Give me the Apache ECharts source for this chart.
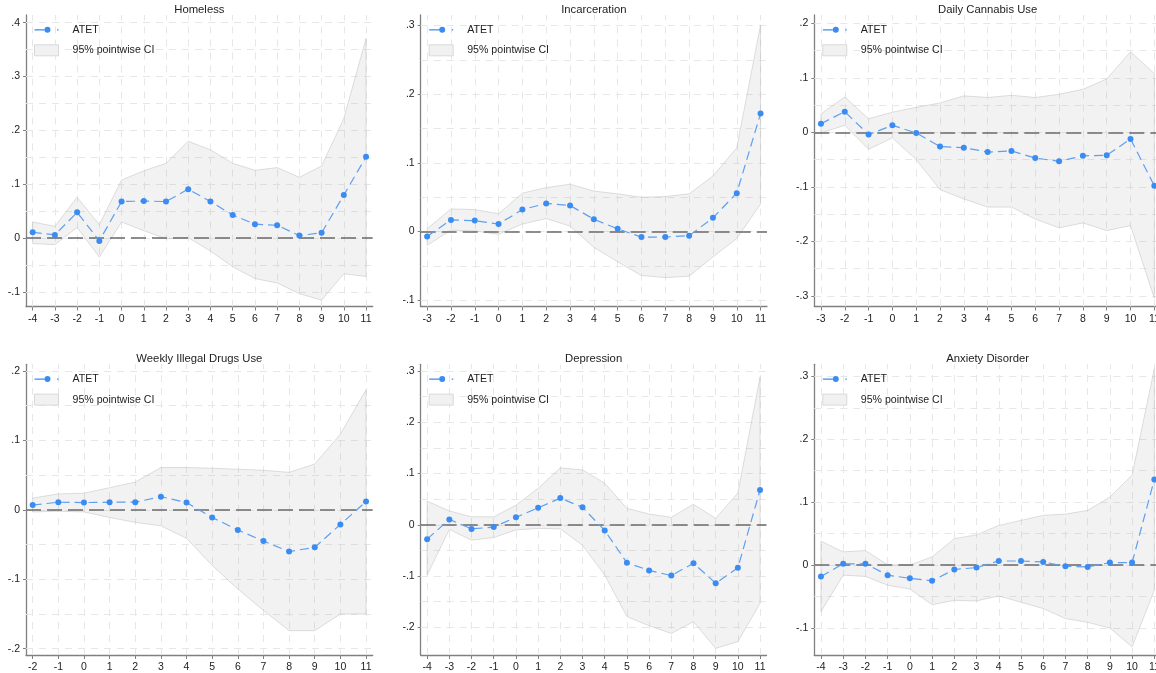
<!DOCTYPE html>
<html>
<head>
<meta charset="utf-8">
<script src="https://cdn.jsdelivr.net/npm/echarts@6/dist/echarts.min.js"></script>
<style>
html, body { margin: 0; padding: 0; background: #fff; overflow: hidden; }
#chart { width: 1156px; height: 673px; }
</style>
</head>
<body>
<div id="chart"></div>
<script>
// ---------------- DATA ----------------
const panelTitles = ['Homeless', 'Incarceration', 'Daily Cannabis Use',
                     'Weekly Illegal Drugs Use', 'Depression', 'Anxiety Disorder'];

const periodsFromMinus4 = [-4, -3, -2, -1, 0, 1, 2, 3, 4, 5, 6, 7, 8, 9, 10, 11];
const periodsFromMinus3 = [-3, -2, -1, 0, 1, 2, 3, 4, 5, 6, 7, 8, 9, 10, 11];
const periodsFromMinus2 = [-2, -1, 0, 1, 2, 3, 4, 5, 6, 7, 8, 9, 10, 11];

// Homeless
const homelessAtet = [0.011, 0.006, 0.048, -0.005, 0.068, 0.069, 0.068, 0.091, 0.068, 0.043, 0.026, 0.024, 0.005, 0.010, 0.080, 0.151];
const homelessHi   = [0.030, 0.022, 0.076, 0.025, 0.108, 0.125, 0.139, 0.180, 0.164, 0.139, 0.126, 0.131, 0.113, 0.134, 0.222, 0.371];
const homelessLo   = [-0.010, -0.012, 0.020, -0.035, 0.030, 0.014, -0.001, 0.001, -0.024, -0.053, -0.075, -0.083, -0.103, -0.115, -0.066, -0.071];

// Incarceration
const incarcerationAtet = [-0.007, 0.017, 0.016, 0.011, 0.032, 0.041, 0.038, 0.018, 0.004, -0.008, -0.008, -0.006, 0.020, 0.056, 0.172];
const incarcerationHi   = [0.004, 0.033, 0.032, 0.026, 0.056, 0.064, 0.069, 0.059, 0.055, 0.050, 0.051, 0.055, 0.081, 0.122, 0.301];
const incarcerationLo   = [-0.020, 0.002, 0.001, -0.004, 0.011, 0.019, 0.008, -0.023, -0.044, -0.064, -0.067, -0.065, -0.037, -0.010, 0.040];

// Daily Cannabis Use
const cannabisAtet = [0.016, 0.038, -0.004, 0.013, -0.001, -0.026, -0.028, -0.036, -0.034, -0.047, -0.053, -0.043, -0.042, -0.012, -0.098];
const cannabisHi   = [0.034, 0.065, 0.025, 0.037, 0.046, 0.054, 0.067, 0.064, 0.068, 0.064, 0.070, 0.079, 0.098, 0.148, 0.108];
const cannabisLo   = [-0.001, 0.013, -0.031, -0.010, -0.050, -0.105, -0.122, -0.137, -0.137, -0.159, -0.175, -0.166, -0.180, -0.171, -0.304];

// Weekly Illegal Drugs Use
const drugsAtet = [0.007, 0.011, 0.0105, 0.011, 0.011, 0.019, 0.0105, -0.011, -0.029, -0.045, -0.060, -0.054, -0.021, 0.012];
const drugsHi   = [0.017, 0.023, 0.024, 0.032, 0.040, 0.061, 0.061, 0.060, 0.0585, 0.057, 0.054, 0.066, 0.109, 0.173];
const drugsLo   = [-0.003, -0.002, -0.003, -0.011, -0.018, -0.023, -0.041, -0.080, -0.114, -0.145, -0.174, -0.174, -0.150, -0.150];

// Depression
const depressionAtet = [-0.028, 0.0105, -0.008, -0.0045, 0.0145, 0.033, 0.052, 0.034, -0.011, -0.074, -0.089, -0.099, -0.075, -0.114, -0.084, 0.068];
const depressionHi   = [0.046, 0.027, 0.0155, 0.0155, 0.038, 0.071, 0.111, 0.107, 0.081, 0.032, 0.021, 0.0145, 0.040, 0.0125, 0.062, 0.2885];
const depressionLo   = [-0.098, -0.009, -0.030, -0.025, -0.010, -0.007, -0.008, -0.040, -0.098, -0.179, -0.197, -0.212, -0.189, -0.241, -0.228, -0.153];

// Anxiety Disorder
const anxietyAtet = [-0.018, 0.002, 0.002, -0.016, -0.021, -0.025, -0.007, -0.004, 0.0065, 0.0065, 0.005, -0.002, -0.003, 0.004, 0.004, 0.136];
const anxietyHi   = [0.038, 0.021, 0.023, 0.0005, 0.000, 0.013, 0.042, 0.048, 0.063, 0.071, 0.079, 0.081, 0.087, 0.108, 0.143, 0.312];
const anxietyLo   = [-0.074, -0.016, -0.018, -0.032, -0.038, -0.063, -0.056, -0.057, -0.049, -0.059, -0.069, -0.085, -0.091, -0.100, -0.130, -0.040];

// Y tick values per panel
const yTicksHomeless      = [-0.1, 0, 0.1, 0.2, 0.3, 0.4];
const yTicksIncarceration = [-0.1, 0, 0.1, 0.2, 0.3];
const yTicksCannabis      = [-0.3, -0.2, -0.1, 0, 0.1, 0.2];
const yTicksDrugs         = [-0.2, -0.1, 0, 0.1, 0.2];
const yTicksDepression    = [-0.2, -0.1, 0, 0.1, 0.2, 0.3];
const yTicksAnxiety       = [-0.1, 0, 0.1, 0.2, 0.3];

const legendNames = ['ATET', '95% pointwise CI'];

// ---------------- LAYOUT (positions / axis ranges) ----------------
const layout = [
  { left: 26,    top: 15,    width: 346.7, height: 291.5, xMin: -4.3,  xMax: 11.3,  yMin: -0.1268, yMax: 0.4143 },
  { left: 420.7, top: 15,    width: 346.3, height: 291.5, xMin: -3.27, xMax: 11.27, yMin: -0.1091, yMax: 0.3154 },
  { left: 814.3, top: 15,    width: 346.7, height: 291.5, xMin: -3.28, xMax: 11.28, yMin: -0.3193, yMax: 0.2153 },
  { left: 26,    top: 364.3, width: 346.7, height: 290.7, xMin: -2.26, xMax: 11.26, yMin: -0.2091, yMax: 0.2097 },
  { left: 420.7, top: 364.3, width: 345.8, height: 290.7, xMin: -4.29, xMax: 11.29, yMin: -0.254,  yMax: 0.313 },
  { left: 814.3, top: 364.3, width: 346.7, height: 290.7, xMin: -4.3,  xMax: 11.3,  yMin: -0.1429, yMax: 0.3191 }
];

const panels = [
  { periods: periodsFromMinus4, atet: homelessAtet,      lo: homelessLo,      hi: homelessHi,      yTicks: yTicksHomeless },
  { periods: periodsFromMinus3, atet: incarcerationAtet, lo: incarcerationLo, hi: incarcerationHi, yTicks: yTicksIncarceration },
  { periods: periodsFromMinus3, atet: cannabisAtet,      lo: cannabisLo,      hi: cannabisHi,      yTicks: yTicksCannabis },
  { periods: periodsFromMinus2, atet: drugsAtet,         lo: drugsLo,         hi: drugsHi,         yTicks: yTicksDrugs },
  { periods: periodsFromMinus4, atet: depressionAtet,    lo: depressionLo,    hi: depressionHi,    yTicks: yTicksDepression },
  { periods: periodsFromMinus4, atet: anxietyAtet,       lo: anxietyLo,       hi: anxietyHi,       yTicks: yTicksAnxiety }
];

// ---------------- STYLE ----------------
const FONT = '"Liberation Sans", Arial, Helvetica, sans-serif';
const TEXT = '#222222';
const AXIS = '#808080';
const GRID = '#e7e7e7';
const ATET_MARK = '#3b8cf2';
const ATET_LINE = '#5d9ff0';
// legend glyph for ATET: short line, small dot, trailing dot (24 x 11 box)
const ATET_ICON = 'path://M0,0 M24,11 M0,5 L10,5 L10,6.1 L0,6.1 Z ' +
                  'M10,5.5 A3,3 0 1,1 16,5.5 A3,3 0 1,1 10,5.5 Z M22.5,5 L24,5 L24,6.1 L22.5,6.1 Z';

function stataLabel(v) {
  if (Math.abs(v) < 1e-9) return '0';
  const s = Math.abs(v).toFixed(1).replace(/^0/, '');
  return (v < 0 ? '-' : '') + s;
}

const option = {
  animation: false,
  backgroundColor: '#ffffff',
  textStyle: { fontFamily: FONT },
  title: [], legend: [], grid: [], xAxis: [], yAxis: [], series: []
};

panels.forEach(function (p, i) {
  const L = layout[i];
  option.grid.push({ left: L.left, top: L.top, width: L.width, height: L.height,
                     containLabel: false, outerBoundsMode: 'none' });

  option.title.push({
    text: panelTitles[i],
    left: L.left + L.width / 2,
    top: L.top - 11,
    textAlign: 'center',
    padding: 0,
    textStyle: { fontSize: 11.3, fontWeight: 'normal', color: TEXT, fontFamily: FONT }
  });

  option.legend.push({
    orient: 'vertical',
    left: L.left + 8,
    top: L.top + 9.3,
    padding: 0,
    itemWidth: 24,
    itemHeight: 11,
    itemGap: 9,
    selectedMode: false,
    textStyle: { fontSize: 10.6, color: TEXT, fontFamily: FONT, padding: [0, 0, 0, 9] },
    data: [
      { name: legendNames[0], icon: ATET_ICON, itemStyle: { color: ATET_MARK, borderWidth: 0 } },
      { name: legendNames[1], icon: 'rect',
        itemStyle: { color: '#f1f1f1', borderColor: '#d9d9d9', borderWidth: 1 } }
    ]
  });

  option.xAxis.push({
    type: 'value', gridIndex: i, min: L.xMin, max: L.xMax,
    axisLine: { show: true, onZero: false, lineStyle: { color: AXIS, width: 1.3 } },
    axisTick: { show: true, length: 4, customValues: p.periods, lineStyle: { color: AXIS, width: 1 } },
    axisLabel: { customValues: p.periods, fontSize: 10.5, color: TEXT, margin: 7, fontFamily: FONT,
                 formatter: function (v) { return String(v); } },
    splitLine: { show: false }
  });

  option.yAxis.push({
    type: 'value', gridIndex: i, min: L.yMin, max: L.yMax,
    axisLine: { show: true, onZero: false, lineStyle: { color: AXIS, width: 1.3 } },
    axisTick: { show: true, length: 3, customValues: p.yTicks, lineStyle: { color: AXIS, width: 1 } },
    axisLabel: { customValues: p.yTicks, fontSize: 10.5, color: TEXT, margin: 6, fontFamily: FONT,
                 formatter: function (v) { return stataLabel(v); } },
    splitLine: { show: false }
  });

  // grid lines: every x tick, every y tick and the midpoints between y ticks
  const yGrid = [];
  p.yTicks.forEach(function (t, k) {
    yGrid.push(t);
    if (k < p.yTicks.length - 1) yGrid.push((t + p.yTicks[k + 1]) / 2);
  });
  const gridData = p.periods.map(function (t) { return { xAxis: t }; })
    .concat(yGrid.map(function (v) { return { yAxis: v }; }));

  option.series.push({
    name: 'grid' + i, type: 'line', xAxisIndex: i, yAxisIndex: i, data: [], silent: true,
    markLine: {
      silent: true, z: 1, symbol: ['none', 'none'], animation: false,
      label: { show: false }, emphasis: { disabled: true },
      lineStyle: { color: GRID, type: [7, 6], width: 1 },
      data: gridData
    }
  });

  // confidence band
  option.series.push({
    name: legendNames[1], type: 'custom', xAxisIndex: i, yAxisIndex: i, z: 2, silent: true,
    encode: { x: 0, y: [1, 2] },
    data: p.periods.map(function (t, k) { return [t, p.lo[k], p.hi[k]]; }),
    itemStyle: { color: '#f1f1f1' },
    renderItem: function (params, api) {
      if (params.dataIndexInside !== 0) return null;
      const n = params.dataInsideLength;
      const up = [], low = [];
      for (let k = 0; k < n; k++) {
        up.push(api.coord([api.value(0, k), api.value(2, k)]));
        low.push(api.coord([api.value(0, k), api.value(1, k)]));
      }
      return {
        type: 'polygon',
        shape: { points: up.concat(low.reverse()) },
        style: { fill: 'rgba(170,170,170,0.15)', stroke: 'rgba(190,190,190,0.55)', lineWidth: 0.9 }
      };
    }
  });

  // ATET line + zero reference line
  option.series.push({
    name: legendNames[0], type: 'line', xAxisIndex: i, yAxisIndex: i, z: 4,
    data: p.periods.map(function (t, k) { return [t, p.atet[k]]; }),
    symbol: 'circle', symbolSize: 6,
    itemStyle: { color: ATET_MARK },
    lineStyle: { color: ATET_LINE, width: 1.2, type: [9, 5] },
    emphasis: { disabled: true },
    markLine: {
      silent: true, z: 3, symbol: ['none', 'none'], animation: false,
      label: { show: false }, emphasis: { disabled: true },
      lineStyle: { color: '#6a6a6a', type: [15, 6], width: 1.5 },
      data: [{ yAxis: 0 }]
    }
  });
});

const chart = echarts.init(document.getElementById('chart'), null, { renderer: 'canvas' });
chart.setOption(option);
</script>
</body>
</html>
